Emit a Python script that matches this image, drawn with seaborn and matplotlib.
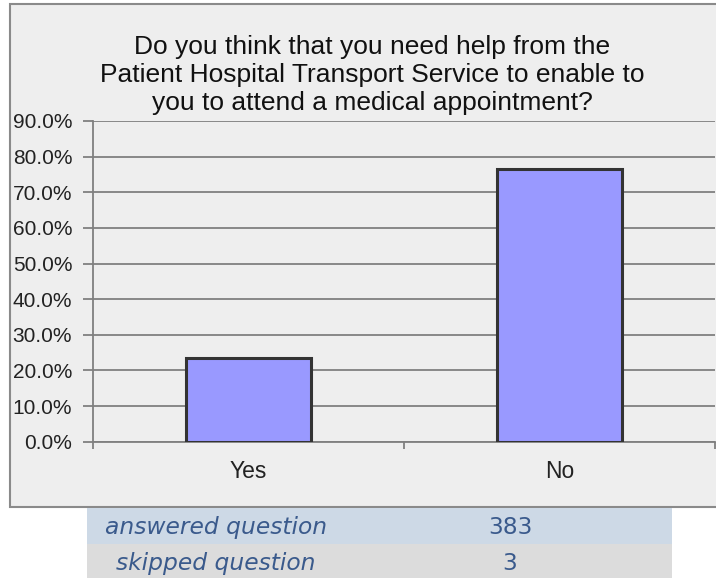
import matplotlib
matplotlib.use("Agg")
import matplotlib.pyplot as plt
from matplotlib.patches import Rectangle
from matplotlib.ticker import FuncFormatter, MultipleLocator, FixedLocator
import seaborn as sns
import pandas as pd

# Survey results
categories = ["Yes", "No"]
percentages = [23.5, 76.5]
summary_labels = ["answered question", "skipped question"]
summary_counts = ["383", "3"]
title_text = ("Do you think that you need help from the\n"
              "Patient Hospital Transport Service to enable to\n"
              "you to attend a medical appointment?")

sns.set_theme(style="white")
plt.rcParams["font.family"] = ["Liberation Sans", "DejaVu Sans"]

W, H = 716, 578
fig = plt.figure(figsize=(W / 100, H / 100), dpi=100, facecolor="white")

def fx(px):
    return px / W

def fy(py):
    return 1 - py / H

# chart panel
panel = Rectangle((fx(9.5), fy(506.5)), fx(760), fy(4.5) - fy(506.5),
                  transform=fig.transFigure, facecolor="#eeeeee",
                  edgecolor="#8a8a8a", linewidth=1.5, zorder=-2)
fig.patches.append(panel)

# response summary table
row_colors = ["#cdd9e6", "#dcdcdc"]
row_tops = [508, 544]
row_h = 36
label_x = [105, 116]
for i in range(2):
    fig.patches.append(Rectangle((fx(87), fy(row_tops[i] + row_h)), fx(672) - fx(87),
                                 row_h / H, transform=fig.transFigure,
                                 facecolor=row_colors[i], edgecolor="none", zorder=-2))
    yc = fy(row_tops[i] + row_h / 2 + 1.5)
    fig.text(fx(label_x[i]), yc, summary_labels[i], ha="left", va="center",
             fontsize=16.8, style="italic", color="#3a5a8c", family="DejaVu Sans")
    fig.text(fx(510), yc, summary_counts[i], ha="center", va="center",
             fontsize=16.8, color="#3a5a8c", family="DejaVu Sans")

ax = fig.add_axes([fx(93), fy(441.7), fx(715) - fx(93), fy(121) - fy(441.7)])
ax.set_zorder(2)
ax.patch.set_alpha(0)

df = pd.DataFrame({"category": categories, "pct": percentages})
sns.barplot(data=df, x="category", y="pct", color="#9999ff", width=0.4,
            edgecolor="#333333", linewidth=2.2, saturation=1, ax=ax, zorder=3)

ax.set_xlim(-0.5, 1.5)
ax.set_ylim(0, 90)
ax.yaxis.set_major_locator(MultipleLocator(10))
ax.yaxis.set_major_formatter(FuncFormatter(lambda v, p: f"{v:.1f}%"))
ax.grid(axis="y", color="#808080", linewidth=1.3, zorder=1)
ax.set_axisbelow(True)

for s in ["top", "right"]:
    ax.spines[s].set_visible(False)
ax.spines["left"].set_color("#808080")
ax.spines["left"].set_linewidth(1.3)
ax.spines["bottom"].set_color("#808080")
ax.spines["bottom"].set_linewidth(1.3)

ax.tick_params(axis="y", which="major", left=True, length=7, width=1.3,
               color="#808080", pad=8)
ax.tick_params(axis="x", which="major", bottom=False, pad=7)
ax.xaxis.set_minor_locator(FixedLocator([-0.5, 0.5, 1.5]))
ax.tick_params(axis="x", which="minor", bottom=True, length=5, width=1.3,
               color="#808080", direction="out")
for lbl in ax.get_yticklabels():
    lbl.set_fontsize(15)
    lbl.set_color("#222222")
for lbl in ax.get_xticklabels():
    lbl.set_fontsize(16.5)
    lbl.set_color("#222222")
ax.set_xlabel("")
ax.set_ylabel("")

fig.text(fx(372), fy(75), title_text, ha="center", va="center",
         fontsize=19, color="#111111", linespacing=1.2)

fig.savefig("out.png", dpi=100, facecolor="white")
